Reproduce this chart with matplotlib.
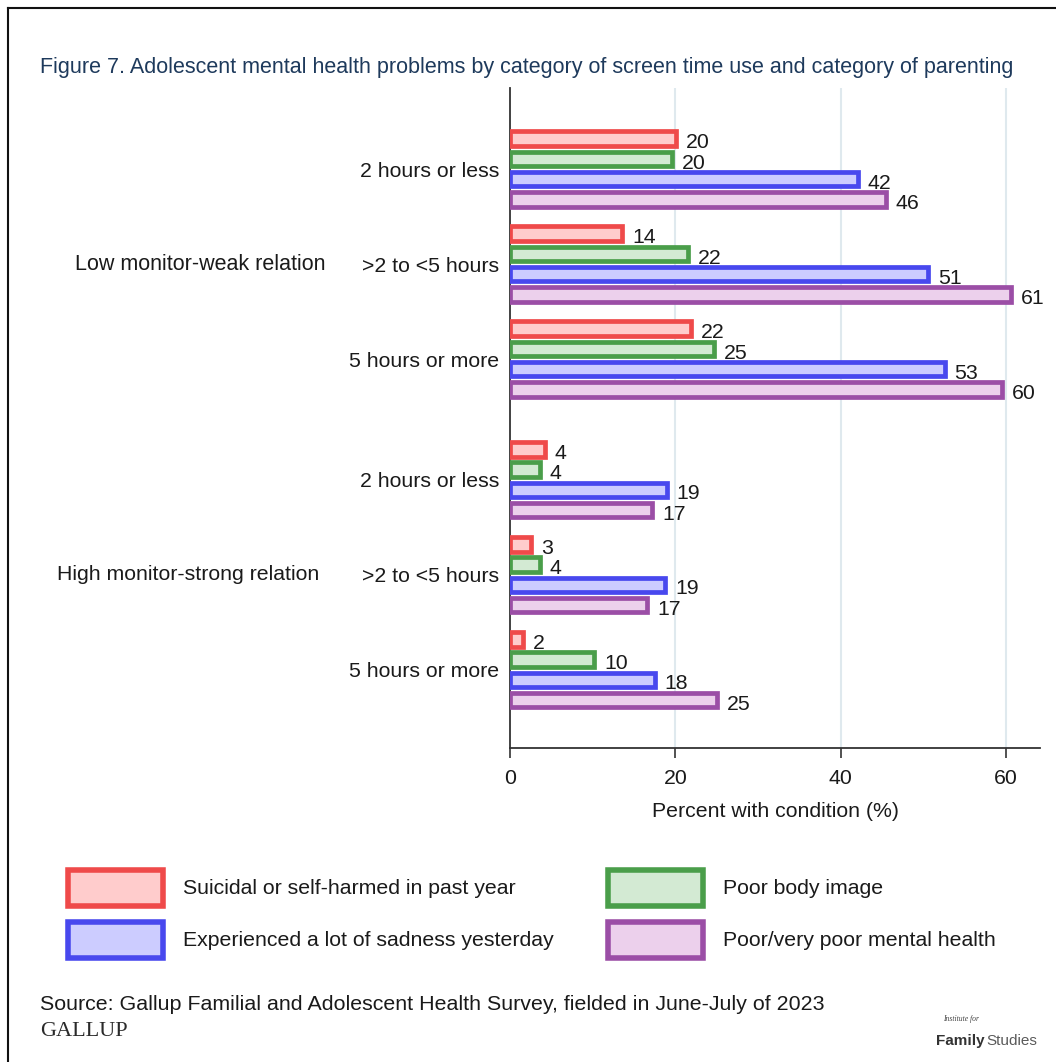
import numpy as np
import matplotlib.pyplot as plt
from matplotlib.patches import Rectangle
from matplotlib.transforms import blended_transform_factory

plt.rcParams['font.family'] = ['Liberation Sans', 'DejaVu Sans']

# screen time groups, top to bottom
screen_time = ['2 hours or less', '>2 to <5 hours', '5 hours or more'] * 2
parenting = ['Low monitor-weak relation', 'High monitor-strong relation']

series = ['Suicidal or self-harmed in past year', 'Poor body image',
          'Experienced a lot of sadness yesterday', 'Poor/very poor mental health']
suicidal = [20.1, 13.6, 21.9, 4.2, 2.6, 1.6]
body_image = [19.6, 21.5, 24.7, 3.6, 3.6, 10.2]
sadness = [42.1, 50.6, 52.6, 19.0, 18.8, 17.5]
mental = [45.5, 60.6, 59.5, 17.2, 16.6, 25.0]
values = [suicidal, body_image, sadness, mental]

edge_colors = ['#ef4a4a', '#4a9e4a', '#4848ee', '#9b4ea6']
fill_colors = ['#ffcccc', '#d3ead3', '#ccccff', '#ecd0ec']

# group centres, with a wider gap between the two parenting blocks
ypos = np.array([0, 1, 2, 3.27, 4.27, 5.27])
pitch = 0.213
bar_h = 0.152

fig = plt.figure(figsize=(10.56, 10.62), dpi=100)
ax = fig.add_axes([510 / 1056, 1 - 748 / 1062, 530 / 1056, 660 / 1062])

for k in range(4):
    yk = ypos + (k - 1.5) * pitch
    ax.barh(yk, values[k], height=bar_h, color=fill_colors[k],
            edgecolor=edge_colors[k], linewidth=3.4, zorder=3)
    for y, v in zip(yk, values[k]):
        ax.annotate('%.0f' % v, (v, y), xytext=(7, -3), textcoords='offset points',
                    ha='left', va='center', fontsize=15.3, color='#1a1a1a', zorder=4)

ax.set_xlim(0, 64.1)
ax.set_ylim(6.095, -0.853)
ax.set_xticks([0, 20, 40, 60])
ax.tick_params(axis='x', length=7, width=1.2, color='#333333', pad=8,
               labelsize=15.3, labelcolor='#1a1a1a')
ax.set_yticks(ypos)
ax.set_yticklabels(screen_time)
ax.tick_params(axis='y', length=0, pad=8, labelsize=15.3, labelcolor='#1a1a1a')
ax.set_xlabel('Percent with condition (%)', fontsize=15.3, color='#1a1a1a', labelpad=10)

for x in [20, 40, 60]:
    ax.axvline(x, color='#dfe9ee', linewidth=1.5, zorder=1)

for s in ['top', 'right']:
    ax.spines[s].set_visible(False)
for s in ['left', 'bottom']:
    ax.spines[s].set_color('#333333')
    ax.spines[s].set_linewidth(1.3)

# parenting category labels
tr = blended_transform_factory(fig.transFigure, ax.transData)
ax.text(200 / 1056, ypos[1], parenting[0], transform=tr, ha='center', va='center',
        fontsize=15.5, color='#1a1a1a')
ax.text(188 / 1056, ypos[4], parenting[1], transform=tr, ha='center', va='center',
        fontsize=15.3, color='#1a1a1a')

fig.text(40 / 1056, 1 - 68 / 1062,
         'Figure 7. Adolescent mental health problems by category of screen time use and category of parenting',
         fontsize=15.5, color='#1e3a5c', ha='left', va='center')

# legend drawn by hand in figure pixels
leg_boxes = [(68, 870), (608, 870), (68, 922), (608, 922)]
for (bx, by), k in zip(leg_boxes, range(4)):
    fig.patches.append(Rectangle((bx / 1056, 1 - (by + 36) / 1062), 95 / 1056, 36 / 1062,
                                 transform=fig.transFigure, facecolor=fill_colors[k],
                                 edgecolor=edge_colors[k], linewidth=4.0))
    fig.text((bx + 115) / 1056, 1 - (by + 19) / 1062, series[k], fontsize=15.3,
             color='#1a1a1a', ha='left', va='center')

fig.text(40 / 1056, 1 - 1004 / 1062,
         'Source: Gallup Familial and Adolescent Health Survey, fielded in June-July of 2023',
         fontsize=15.4, color='#1a1a1a', ha='left', va='center')
fig.text(40 / 1056, 1 - 1031 / 1062, 'GALLUP', family=['Liberation Serif', 'DejaVu Serif'],
         fontsize=16, color='#2a2a2a', ha='left', va='center')
fig.text(943 / 1056, 1 - 1019 / 1062, 'Institute for', family=['Liberation Serif', 'DejaVu Serif'],
         style='italic', fontsize=5.5, color='#444444', ha='left', va='center')
fig.text(985 / 1056, 1 - 1041 / 1062, 'Family', fontsize=11, fontweight='bold',
         color='#333333', ha='right', va='center')
fig.text(986 / 1056, 1 - 1041 / 1062, 'Studies', fontsize=11,
         color='#5a5a5a', ha='left', va='center')

# frame lines along the top and left edge
fig.add_artist(plt.Line2D([8 / 1056, 8 / 1056], [0, 1 - 8 / 1062], transform=fig.transFigure,
                          color='#111111', linewidth=1.5))
fig.add_artist(plt.Line2D([8 / 1056, 1], [1 - 8 / 1062, 1 - 8 / 1062], transform=fig.transFigure,
                          color='#111111', linewidth=1.5))

fig.savefig('out.png', dpi=100)
